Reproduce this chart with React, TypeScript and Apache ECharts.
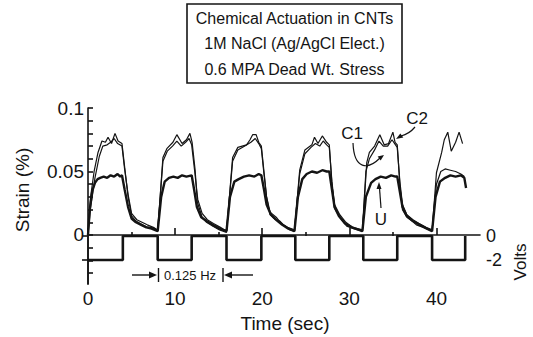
import React, { useEffect, useRef } from "react";
import * as echarts from "echarts";

// ---- data (time in s, strain in %) ----
const xTickLabels = [0, 10, 20, 30, 40];
const xMinorTicks = [5, 15, 25, 35];
const strainTickValues = [-0.03, -0.02, -0.01, 0, 0.01, 0.02, 0.03, 0.04, 0.05, 0.06, 0.07, 0.08, 0.09, 0.1];
const strainLabelValues = [0, 0.05, 0.1];
const voltLabelValues = [0, -2];
const titleLines = ["Chemical Actuation in CNTs", "1M NaCl (Ag/AgCl Elect.)", "0.6 MPA Dead Wt. Stress"];

// square wave: switching times, starting at -2 V
const voltEdges = [4, 8, 11.9, 15.9, 19.9, 23.8, 27.7, 31.6, 35.5, 39.5, 43.3];
const voltLevels = [-2, 0];

const c2Data = [
  [0, 0.002], [0.3, 0.03], [0.7, 0.05], [1.15, 0.065], [1.6, 0.074], [2.0, 0.073], [2.3, 0.077], [2.7, 0.072], [3.1, 0.08], [3.45, 0.074], [3.9, 0.072],
  [4.25, 0.051], [4.6, 0.03], [5.0, 0.015], [5.5, 0.011], [6.0, 0.009], [6.7, 0.0065], [7.2, 0.006], [7.7, 0.005], [8.0, 0.003],
  [8.6, 0.061], [9.05, 0.068], [9.75, 0.073], [10.2, 0.079], [10.8, 0.072], [11.3, 0.075], [11.7, 0.08], [11.95, 0.073],
  [12.3, 0.051], [12.55, 0.026], [13.1, 0.014], [13.6, 0.01], [14.3, 0.007], [15.1, 0.004], [15.9, 0.002],
  [16.6, 0.061], [17.2, 0.069], [18.2, 0.071], [18.6, 0.075], [18.9, 0.079], [19.3, 0.079], [19.6, 0.073], [19.9, 0.07],
  [20.2, 0.05], [20.5, 0.03], [20.9, 0.016], [21.5, 0.012], [22.0, 0.011], [22.6, 0.007], [23.2, 0.004], [23.7, 0.003],
  [24.3, 0.051], [24.9, 0.067], [25.7, 0.071], [26.0, 0.077], [26.4, 0.072], [26.9, 0.078], [27.4, 0.073], [27.7, 0.071],
  [28.0, 0.04], [28.3, 0.021], [28.9, 0.014], [29.7, 0.007], [30.5, 0.005], [31.5, 0.003],
  [32.0, 0.057], [32.3, 0.065], [32.9, 0.07], [33.5, 0.079], [34.0, 0.071], [34.5, 0.072], [35.0, 0.081], [35.25, 0.073], [35.5, 0.071],
  [35.8, 0.04], [36.1, 0.02], [36.6, 0.014], [37.2, 0.011], [37.7, 0.008], [38.5, 0.006], [39.2, 0.004], [39.5, 0.003],
  [40.0, 0.049], [40.6, 0.065], [40.9, 0.075], [41.3, 0.081], [41.7, 0.066], [42.2, 0.073], [42.6, 0.081], [43.0, 0.072],
];

const c1Data = [
  [0, 0.0], [0.3, 0.022], [0.8, 0.045], [1.3, 0.062], [1.7, 0.07], [2.2, 0.071], [2.6, 0.073], [3.0, 0.076], [3.4, 0.072], [3.9, 0.07],
  [4.2, 0.052], [4.6, 0.032], [5.0, 0.017], [5.6, 0.012], [6.2, 0.01], [6.8, 0.008], [7.5, 0.006], [8.0, 0.004],
  [8.6, 0.058], [9.1, 0.066], [9.7, 0.07], [10.2, 0.074], [10.7, 0.07], [11.2, 0.073], [11.6, 0.076], [11.9, 0.071],
  [12.25, 0.05], [12.6, 0.028], [13.1, 0.017], [13.7, 0.012], [14.4, 0.009], [15.2, 0.006], [15.9, 0.003],
  [16.6, 0.058], [17.2, 0.067], [18.0, 0.07], [18.7, 0.073], [19.2, 0.076], [19.6, 0.072], [19.9, 0.068],
  [20.2, 0.048], [20.5, 0.03], [20.9, 0.018], [21.6, 0.014], [22.2, 0.009], [22.9, 0.006], [23.7, 0.004],
  [24.3, 0.048], [24.9, 0.064], [25.6, 0.069], [26.1, 0.072], [26.6, 0.07], [27.0, 0.074], [27.4, 0.071], [27.7, 0.069],
  [28.0, 0.042], [28.3, 0.024], [28.9, 0.016], [29.6, 0.01], [30.4, 0.006], [31.5, 0.004],
  [31.9, 0.05], [32.3, 0.06], [32.9, 0.067], [33.4, 0.074], [33.9, 0.07], [34.4, 0.07], [34.9, 0.075], [35.3, 0.071], [35.5, 0.069],
  [35.8, 0.042], [36.1, 0.024], [36.6, 0.016], [37.3, 0.012], [38.0, 0.009], [38.8, 0.006], [39.5, 0.004],
  [40.0, 0.04], [40.5, 0.05], [41.0, 0.052], [41.6, 0.051], [42.2, 0.05], [42.8, 0.048], [43.2, 0.046],
];

const uData = [
  [0, 0.0], [0.2, 0.02], [0.5, 0.035], [0.8, 0.041], [1.1, 0.044], [1.4, 0.045], [1.8, 0.046], [2.2, 0.045], [2.6, 0.047], [3.0, 0.046], [3.4, 0.048], [3.7, 0.046], [3.9, 0.047],
  [4.2, 0.036], [4.6, 0.022], [5.0, 0.013], [5.5, 0.01], [6.1, 0.008], [6.7, 0.006], [7.3, 0.005], [8.0, 0.003],
  [8.4, 0.03], [8.8, 0.042], [9.3, 0.045], [9.8, 0.046], [10.3, 0.045], [10.8, 0.047], [11.3, 0.046], [11.9, 0.047],
  [12.2, 0.035], [12.5, 0.022], [13.0, 0.014], [13.6, 0.011], [14.3, 0.008], [15.1, 0.005], [15.9, 0.003],
  [16.3, 0.03], [16.8, 0.042], [17.3, 0.044], [17.9, 0.046], [18.5, 0.047], [19.1, 0.046], [19.6, 0.048], [19.9, 0.047],
  [20.2, 0.036], [20.5, 0.024], [21.0, 0.016], [21.6, 0.012], [22.3, 0.008], [23.0, 0.005], [23.7, 0.003],
  [24.1, 0.03], [24.6, 0.044], [25.1, 0.048], [25.7, 0.05], [26.3, 0.049], [26.9, 0.051], [27.4, 0.05], [27.7, 0.05],
  [28.0, 0.036], [28.3, 0.022], [28.8, 0.015], [29.5, 0.009], [30.3, 0.006], [31.5, 0.003],
  [31.9, 0.03], [32.5, 0.041], [33.0, 0.044], [33.6, 0.046], [34.2, 0.045], [34.8, 0.047], [35.3, 0.046], [35.5, 0.046],
  [35.8, 0.034], [36.1, 0.022], [36.6, 0.015], [37.3, 0.011], [38.1, 0.008], [38.9, 0.005], [39.5, 0.003],
  [39.9, 0.03], [40.4, 0.042], [41.0, 0.045], [41.6, 0.047], [42.2, 0.046], [42.8, 0.047], [43.2, 0.045], [43.4, 0.037],
];

const FONT = "Liberation Sans, Arial, sans-serif";
const INK = "#141414";

function buildSquare() {
  const pts: number[][] = [];
  let li = 0;
  pts.push([0, voltLevels[li]]);
  for (const e of voltEdges) {
    pts.push([e, voltLevels[li]]);
    li = 1 - li;
    pts.push([e, voltLevels[li]]);
  }
  return pts;
}

export default function App() {
  const ref = useRef<HTMLDivElement>(null);
  useEffect(() => {
    if (!ref.current) return;
    const chart = echarts.init(ref.current, null, { renderer: "svg" });
    const gridL = 88, gridR = 53, gridB = 53;
    const axisLineStyle = { color: INK, width: 1.6 };
    const option: any = {
      animation: false,
      backgroundColor: "#fff",
      grid: [
        { left: gridL, right: gridR, top: 108, bottom: gridB },
        { left: gridL, right: gridR, top: 236, bottom: gridB },
      ],
      xAxis: [
        {
          type: "value", gridIndex: 0, min: 0, max: 45,
          axisLine: { show: true, lineStyle: axisLineStyle },
          axisTick: { show: true, inside: true, length: 7, lineStyle: axisLineStyle, customValues: xTickLabels },
          axisLabel: { customValues: xTickLabels, color: INK, fontSize: 19, fontFamily: FONT, margin: 5 },
          splitLine: { show: false },
        },
        {
          type: "value", gridIndex: 1, min: 0, max: 45,
          axisLine: { show: false },
          axisTick: { show: true, inside: true, length: 4, lineStyle: axisLineStyle, customValues: xMinorTicks },
          axisLabel: { show: false },
          splitLine: { show: false },
        },
      ],
      yAxis: [
        {
          type: "value", gridIndex: 0, min: -0.0386, max: 0.1,
          axisLine: { show: true, lineStyle: axisLineStyle },
          axisTick: { show: true, inside: true, length: 5, lineStyle: axisLineStyle, customValues: strainTickValues },
          axisLabel: { customValues: strainLabelValues, color: INK, fontSize: 19, fontFamily: FONT, margin: 4 },
          splitLine: { show: false },
        },
        {
          type: "value", gridIndex: 1, min: -4, max: 0, position: "right",
          axisLine: { show: true, lineStyle: axisLineStyle },
          axisTick: { show: true, inside: true, length: 6, lineStyle: axisLineStyle, customValues: voltLabelValues },
          axisLabel: { customValues: voltLabelValues, color: INK, fontSize: 18, fontFamily: FONT, margin: 6,
            formatter: (v: number) => (v === 0 ? "0" : "-2") },
          splitLine: { show: false },
        },
      ],
      series: [
        { type: "line", xAxisIndex: 0, yAxisIndex: 0, data: c1Data, showSymbol: false, symbol: "none",
          lineStyle: { color: INK, width: 1.2 }, z: 3 },
        { type: "line", xAxisIndex: 0, yAxisIndex: 0, data: c2Data, showSymbol: false, symbol: "none",
          lineStyle: { color: INK, width: 1.2 }, z: 3 },
        { type: "line", xAxisIndex: 0, yAxisIndex: 0, data: uData, showSymbol: false, symbol: "none",
          lineStyle: { color: INK, width: 2.4 }, z: 4 },
        { type: "line", xAxisIndex: 1, yAxisIndex: 1, data: buildSquare(), showSymbol: false, symbol: "none",
          lineStyle: { color: INK, width: 2.6 }, z: 4 },
      ],
      graphic: [
        { type: "rect", shape: { x: 187, y: 4, width: 215, height: 79 }, style: { fill: "none", stroke: INK, lineWidth: 1.6 } },
        ...titleLines.map((t, i) => ({
          type: "text", x: 294.5, y: 18 + i * 25.5,
          style: { text: t, fill: INK, font: `16px ${FONT}`, align: "center", verticalAlign: "middle" },
        })),
        { type: "text", x: 22, y: 190, rotation: Math.PI / 2,
          style: { text: "Strain (%)", fill: INK, font: `19px ${FONT}`, align: "center", verticalAlign: "middle" } },
        { type: "text", x: 520, y: 262, rotation: Math.PI / 2,
          style: { text: "Volts", fill: INK, font: `17px ${FONT}`, align: "center", verticalAlign: "middle" } },
        { type: "text", x: 285, y: 323,
          style: { text: "Time (sec)", fill: INK, font: `19px ${FONT}`, align: "center", verticalAlign: "middle" } },
        // 0.125 Hz annotation
        { type: "line", shape: { x1: 132, y1: 275, x2: 152, y2: 275 }, style: { stroke: INK, lineWidth: 1.4 } },
        { type: "polygon", shape: { points: [[157, 275], [149, 271.5], [149, 278.5]] }, style: { fill: INK } },
        { type: "line", shape: { x1: 158.5, y1: 268, x2: 158.5, y2: 282 }, style: { stroke: INK, lineWidth: 1.4 } },
        { type: "text", x: 190, y: 275,
          style: { text: "0.125 Hz", fill: INK, font: `13px ${FONT}`, align: "center", verticalAlign: "middle" } },
        { type: "line", shape: { x1: 223, y1: 268, x2: 223, y2: 282 }, style: { stroke: INK, lineWidth: 1.4 } },
        { type: "polygon", shape: { points: [[224, 275], [232, 271.5], [232, 278.5]] }, style: { fill: INK } },
        { type: "line", shape: { x1: 230, y1: 275, x2: 253, y2: 275 }, style: { stroke: INK, lineWidth: 1.4 } },
        // C1 / C2 / U labels
        { type: "text", x: 352, y: 133,
          style: { text: "C1", fill: INK, font: `17px ${FONT}`, align: "center", verticalAlign: "middle" } },
        { type: "bezierCurve", shape: { x1: 353, y1: 143, cpx1: 354, cpy1: 170, cpx2: 368, cpy2: 170, x2: 380, y2: 158 },
          style: { stroke: INK, lineWidth: 1.2, fill: "none" } },
        { type: "polygon", shape: { points: [[384, 155], [380.7, 160.6], [377.7, 156.6]] }, style: { fill: INK } },
        { type: "text", x: 417, y: 118,
          style: { text: "C2", fill: INK, font: `17px ${FONT}`, align: "center", verticalAlign: "middle" } },
        { type: "bezierCurve", shape: { x1: 415, y1: 127, cpx1: 410, cpy1: 133, cpx2: 405, cpy2: 135, x2: 401, y2: 136 },
          style: { stroke: INK, lineWidth: 1.2, fill: "none" } },
        { type: "polygon", shape: { points: [[396, 139], [403.3, 137.4], [400.3, 133.4]] }, style: { fill: INK } },
        { type: "text", x: 381, y: 219,
          style: { text: "U", fill: INK, font: `17px ${FONT}`, align: "center", verticalAlign: "middle" } },
        { type: "line", shape: { x1: 381, y1: 208, x2: 379.5, y2: 188 }, style: { stroke: INK, lineWidth: 1.2 } },
        { type: "polygon", shape: { points: [[379, 182], [376.5, 189], [381.5, 189]] }, style: { fill: INK } },
      ],
    };
    chart.setOption(option);
    return () => chart.dispose();
  }, []);
  return (
    <div
      ref={ref}
      style={{ position: "fixed", left: 0, top: 0, width: 533, height: 337, background: "#fff" }}
    />
  );
}
